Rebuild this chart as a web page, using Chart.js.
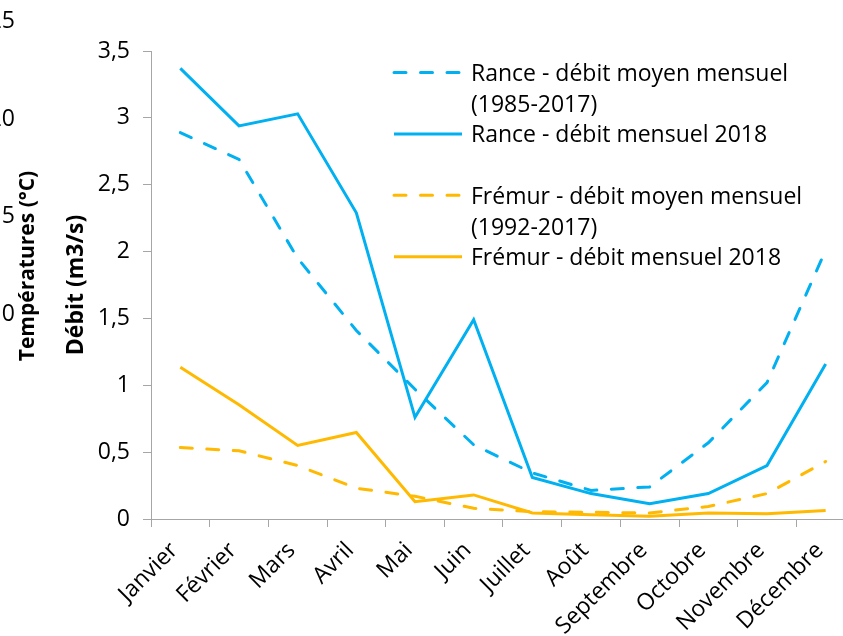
<!DOCTYPE html>
<html>
<head>
<meta charset="utf-8">
<script src="https://cdn.jsdelivr.net/npm/chart.js@4"></script>
<style>
  html, body { margin: 0; padding: 0; background: #fff; }
  #wrap { width: 843px; height: 636px; overflow: hidden; position: relative; }
  #c { display: block; }
</style>
</head>
<body>
<div id="wrap"><canvas id="c" width="870" height="636" style="width:870px;height:636px"></canvas></div>
<script>
// ---- data ----
const months = ["Janvier", "Février", "Mars", "Avril", "Mai", "Juin", "Juillet", "Août", "Septembre", "Octobre", "Novembre", "Décembre"];
const ranceMoyen = [2.89, 2.69, 1.95, 1.41, 0.97, 0.555, 0.345, 0.214, 0.24, 0.57, 1.02, 2.01];
const rance2018 = [3.37, 2.94, 3.03, 2.29, 0.76, 1.49, 0.31, 0.19, 0.114, 0.19, 0.40, 1.16];
const fremurMoyen = [0.535, 0.51, 0.40, 0.23, 0.17, 0.08, 0.055, 0.05, 0.045, 0.094, 0.19, 0.43];
const fremur2018 = [1.135, 0.854, 0.55, 0.647, 0.13, 0.18, 0.045, 0.032, 0.02, 0.045, 0.04, 0.064];
const seriesNames = ["Rance - débit moyen mensuel (1985-2017)", "Rance - débit mensuel 2018", "Frémur - débit moyen mensuel (1992-2017)", "Frémur - débit mensuel 2018"];
const legendLines = [["Rance - débit moyen mensuel", "(1985-2017)"], ["Rance - débit mensuel 2018"], ["Frémur - débit moyen mensuel", "(1992-2017)"], ["Frémur - débit mensuel 2018"]];
const debitTicks = [0, 0.5, 1, 1.5, 2, 2.5, 3, 3.5];
const tempTickValues = [25, 20, 15, 10];
const debitTitle = "Débit (m3/s)";
const tempTitle = "Températures (°C)";

const BLUE = "#00B0F0";
const GOLD = "#FFB900";
const AXIS = "#A6A6A6";
const FONT = '"Open Sans", "Liberation Sans", sans-serif';

// cropped temperature axis (partially visible at the left edge)
const tempAxisPlugin = {
  id: "tempAxis",
  afterDraw(chart) {
    const ctx = chart.ctx;
    const s = chart.scales.yTemp;
    ctx.save();
    ctx.fillStyle = "#000";
    ctx.font = "23px " + FONT;
    ctx.textAlign = "right";
    ctx.textBaseline = "middle";
    tempTickValues.forEach(v => ctx.fillText(String(v), 15, s.getPixelForValue(v)));
    ctx.font = "bold 21px " + FONT;
    ctx.textAlign = "center";
    ctx.translate(28, 266);
    ctx.rotate(-Math.PI / 2);
    ctx.fillText(tempTitle, 0, 0);
    ctx.restore();
  }
};

// legend drawn inside the plot area, multi-line labels
const innerLegend = {
  id: "innerLegend",
  afterDraw(chart, args, o) {
    const {ctx, chartArea} = chart;
    ctx.save();
    ctx.font = "23px " + FONT;
    ctx.textBaseline = "alphabetic";
    ctx.textAlign = "left";
    chart.data.datasets.forEach((ds, i) => {
      const base = chartArea.top + o.top + i * 2 * o.lineHeight;
      const ly = base - 8.5;
      const x0 = chartArea.left + o.sampleLeft;
      ctx.strokeStyle = ds.borderColor;
      ctx.lineWidth = ds.borderWidth;
      ctx.lineCap = ds.borderCapStyle || "butt";
      ctx.setLineDash(ds.borderDash || []);
      ctx.beginPath();
      ctx.moveTo(x0, ly);
      ctx.lineTo(x0 + o.sampleWidth, ly);
      ctx.stroke();
      ctx.setLineDash([]);
      ctx.fillStyle = "#000";
      legendLines[i].forEach((t, k) => ctx.fillText(t, chartArea.left + o.textLeft, base + k * o.lineHeight));
    });
    ctx.restore();
  }
};

const dashed = [12, 14.5];
new Chart(document.getElementById("c"), {
  type: "line",
  data: {
    labels: months,
    datasets: [
      { label: seriesNames[0], data: ranceMoyen, borderColor: BLUE, borderWidth: 3, borderDash: dashed, borderCapStyle: "round", pointRadius: 0, tension: 0, fill: false },
      { label: seriesNames[1], data: rance2018, borderColor: BLUE, borderWidth: 3, pointRadius: 0, tension: 0, fill: false },
      { label: seriesNames[2], data: fremurMoyen, borderColor: GOLD, borderWidth: 3, borderDash: dashed, borderCapStyle: "round", pointRadius: 0, tension: 0, fill: false },
      { label: seriesNames[3], data: fremur2018, borderColor: GOLD, borderWidth: 3, pointRadius: 0, tension: 0, fill: false }
    ]
  },
  options: {
    responsive: false,
    animation: false,
    devicePixelRatio: 1,
    layout: { padding: { left: 0, right: 15, top: 51, bottom: 0 } },
    plugins: {
      legend: { display: false },
      tooltip: { enabled: false },
      innerLegend: { top: 30, lineHeight: 30.7, sampleLeft: 243, sampleWidth: 68, textLeft: 320 }
    },
    scales: {
      x: {
        type: "category",
        offset: true,
        grid: { display: true, drawOnChartArea: false, drawTicks: true, tickLength: 8, color: AXIS, offset: true },
        border: { display: true, color: AXIS, width: 1 },
        ticks: { autoSkip: false, minRotation: 45, maxRotation: 45, color: "#000", font: { family: FONT, size: 23 }, padding: 10, labelOffset: -6 },
        afterFit(scale) { scale.height = 117; }
      },
      y: {
        type: "linear",
        position: "left",
        min: 0,
        max: 3.5,
        afterBuildTicks(scale) { scale.ticks = debitTicks.map(v => ({ value: v })); },
        grid: { display: true, drawOnChartArea: false, drawTicks: true, tickLength: 8, color: AXIS },
        border: { display: true, color: AXIS, width: 1 },
        ticks: {
          color: "#000",
          font: { family: FONT, size: 23 },
          padding: 13,
          callback: v => String(v).replace(".", ",")
        },
        title: { display: true, text: debitTitle, color: "#000", font: { family: FONT, size: 23, weight: "bold" }, padding: { top: 62.7, bottom: 0 } },
        afterFit(scale) { scale.width = 151; }
      },
      yTemp: {
        type: "linear",
        display: false,
        min: -0.46,
        max: 23.48
      }
    }
  },
  plugins: [tempAxisPlugin, innerLegend]
});
</script>
</body>
</html>
